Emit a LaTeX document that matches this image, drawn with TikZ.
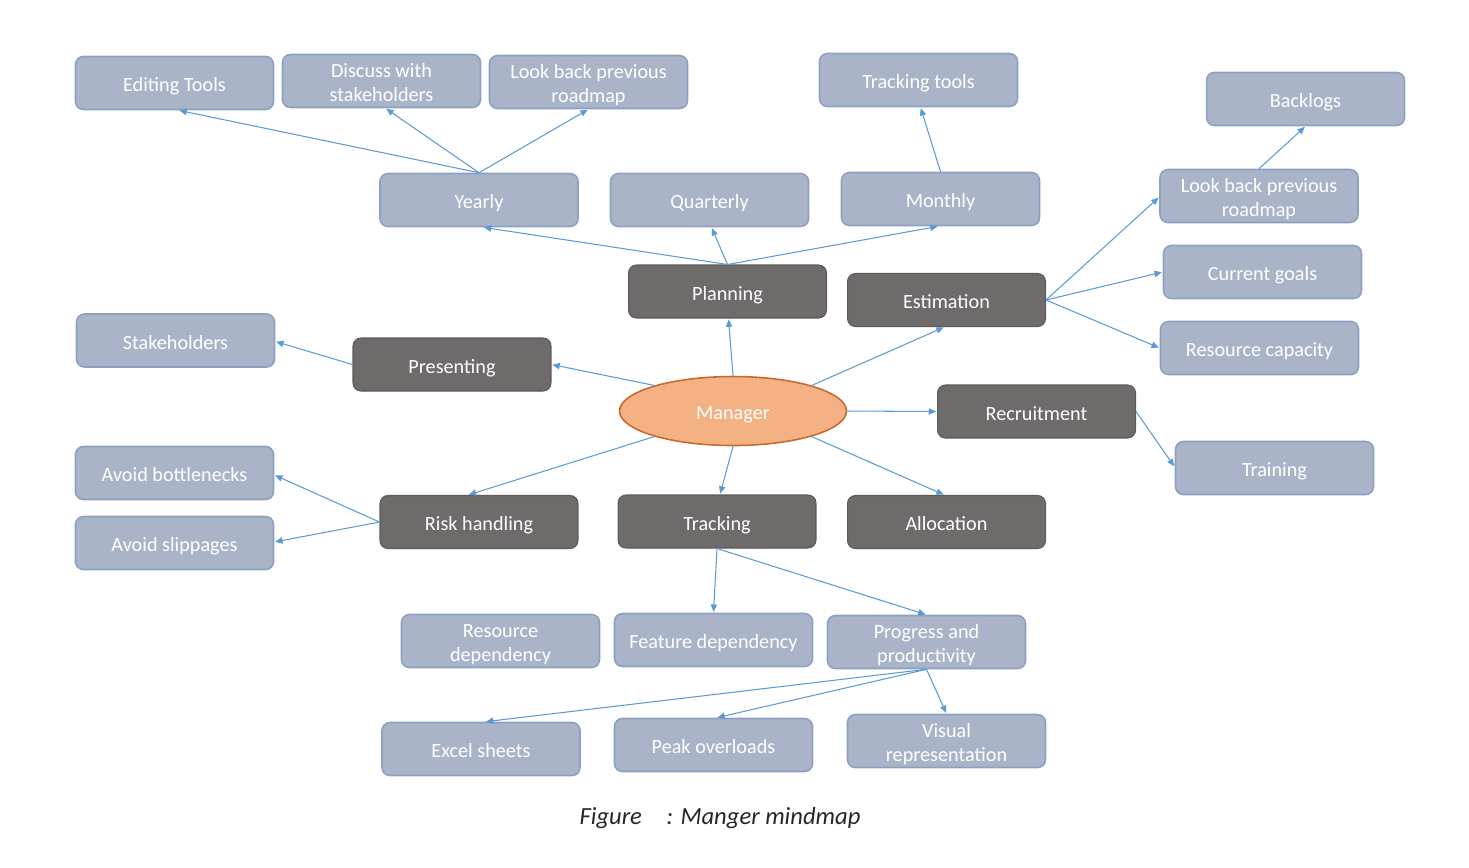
\documentclass[tikz,border=0pt]{standalone}
\usepackage{fontspec}
\setmainfont{Carlito}
\usetikzlibrary{arrows.meta,calc,shapes.geometric}
\definecolor{lfill}{HTML}{A9B4C9}
\definecolor{ldraw}{HTML}{8EA0C2}
\definecolor{dfill}{HTML}{706B6B}
\definecolor{ddraw}{HTML}{5E5A5A}
\definecolor{mfill}{HTML}{F4B183}
\definecolor{mdraw}{HTML}{C9692E}
\definecolor{lnk}{HTML}{5B9BD5}
\newcommand{\bt}[1]{\raisebox{-2.2pt}[\height][\depth]{\begin{tabular}{@{}c@{}}#1\end{tabular}}}
\tikzset{
  basebox/.style={rectangle,rounded corners=4.5pt,minimum width=3.96cm,minimum height=1.06cm,
    align=center,text=white,font=\fontsize{11.5}{13.6}\selectfont,inner sep=1pt},
  lbox/.style={basebox,fill=lfill,draw=ldraw,line width=0.9pt},
  dbox/.style={basebox,fill=dfill,draw=ddraw,line width=0.6pt},
  mgrnode/.style={ellipse,minimum width=4.54cm,minimum height=1.38cm,fill=mfill,draw=mdraw,
    line width=0.9pt,text=white,font=\fontsize{11.5}{13.6}\selectfont,inner sep=0pt},
  conn/.style={draw=lnk,line width=0.6pt,-{Triangle[length=4.2pt,width=3.6pt]},shorten >=0.5pt}
}
\begin{document}
\begin{tikzpicture}[x=0.02cm,y=-0.02cm]
\useasboundingbox (0,0) rectangle (1469,867);
% light boxes
\node[lbox] (edit) at (174.5,83) {\bt{Editing Tools}};
\node[lbox] (disc) at (381.5,81) {\bt{Discuss with\\stakeholders}};
\node[lbox] (lbtop) at (588.5,82) {\bt{Look back previous\\roadmap}};
\node[lbox] (ttools) at (918.5,80) {\bt{Tracking tools}};
\node[lbox] (backl) at (1305.5,99) {\bt{Backlogs}};
\node[lbox] (yearly) at (479,200) {\bt{Yearly}};
\node[lbox] (quart) at (709.5,200) {\bt{Quarterly}};
\node[lbox] (month) at (940.5,199) {\bt{Monthly}};
\node[lbox] (lbright) at (1259,196) {\bt{Look back previous\\roadmap}};
\node[lbox] (curgoal) at (1262.5,272) {\bt{Current goals}};
\node[lbox] (rescap) at (1259.5,348) {\bt{Resource capacity}};
\node[lbox] (stake) at (175.5,340.5) {\bt{Stakeholders}};
\node[lbox] (bottle) at (174.5,473) {\bt{Avoid bottlenecks}};
\node[lbox] (slip) at (174.5,543) {\bt{Avoid slippages}};
\node[lbox] (train) at (1274.5,468) {\bt{Training}};
\node[lbox] (resdep) at (500.5,641) {\bt{Resource\\dependency}};
\node[lbox] (featdep) at (713.5,640) {\bt{Feature dependency}};
\node[lbox] (prog) at (926.5,642) {\bt{Progress and\\productivity}};
\node[lbox] (excel) at (481,749) {\bt{Excel sheets}};
\node[lbox] (peak) at (713.5,745) {\bt{Peak overloads}};
\node[lbox] (visual) at (946.5,741) {\bt{Visual\\representation}};
% dark boxes
\node[dbox] (plan) at (727.5,291.5) {\bt{Planning}};
\node[dbox] (estim) at (946.5,300) {\bt{Estimation}};
\node[dbox] (pres) at (452,364.5) {\bt{Presenting}};
\node[dbox] (recr) at (1036.5,411.5) {\bt{Recruitment}};
\node[dbox] (risk) at (479,522) {\bt{Risk handling}};
\node[dbox] (track) at (717,521.5) {\bt{Tracking}};
\node[dbox] (alloc) at (946.5,522) {\bt{Allocation}};
% manager
\node[mgrnode] (mgr) at (733,411) {\bt{Manager}};
% connectors
\draw[conn] (yearly.north) -- ($(edit.south)+(4,0)$);
\draw[conn] (yearly.north) -- ($(disc.south)+(4,0)$);
\draw[conn] (yearly.north) -- (lbtop.south);
\draw[conn] (month.north) -- ($(ttools.south)+(2,0)$);
\draw[conn] (lbright.north) -- (backl.south);
\draw[conn] (plan.north) -- ($(yearly.south)+(4,0)$);
\draw[conn] (plan.north) -- ($(quart.south)+(2,0)$);
\draw[conn] (plan.north) -- ($(month.south)+(-2,0)$);
\draw[conn] (mgr.north) -- ($(plan.south)+(1,0)$);
\draw[conn] (mgr.18) -- ($(estim.south)+(-2,0)$);
\draw[conn] (estim.east) -- ($(lbright.west)+(0,1)$);
\draw[conn] (estim.east) -- (curgoal.west);
\draw[conn] (estim.east) -- (rescap.west);
\draw[conn] (mgr.162) -- (pres.east);
\draw[conn] (pres.west) -- ($(stake.east)+(0,1)$);
\draw[conn] (mgr.east) -- (recr.west);
\draw[conn] (recr.east) -- ($(train.west)+(0,-1)$);
\draw[conn] (mgr.198) -- ($(risk.north)+(-11,0)$);
\draw[conn] (risk.west) -- ($(bottle.east)+(0,2)$);
\draw[conn] (risk.west) -- ($(slip.east)+(0,-1)$);
\draw[conn] (mgr.south) -- ($(track.north)+(3,0)$);
\draw[conn] (mgr.-18) -- ($(alloc.north)+(-2,0)$);
\draw[conn] (track.south) -- (featdep.north);
\draw[conn] (track.south) -- (prog.north);
\draw[conn] (prog.south) -- ($(excel.north)+(4,0)$);
\draw[conn] (prog.south) -- ($(peak.north)+(3,0)$);
\draw[conn] (prog.south) -- (visual.north);
% caption
\node[font=\fontsize{14}{16}\selectfont\itshape,text=black!85] (cap) at (720,818) {Figure\hspace{1em}: Manger mindmap};
\end{tikzpicture}
\end{document}
